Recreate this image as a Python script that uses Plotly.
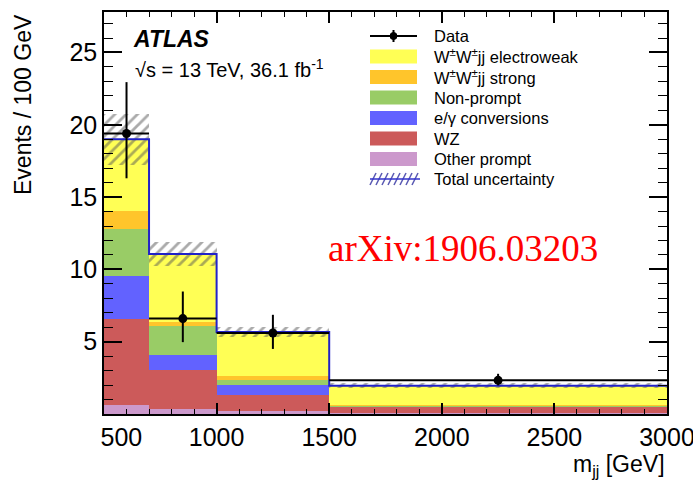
import plotly.graph_objects as go

# Binning in m_jj [GeV]
bin_edges = [500, 700, 1000, 1500, 3000]
bin_centers = [600, 850, 1250, 2250]
bin_widths = [200, 300, 500, 1500]

# Predicted yields, events / 100 GeV, listed bottom to top of the stack
other_prompt = [0.65, 0.35, 0.20, 0.08]
wz = [5.92, 2.72, 1.14, 0.42]
conversions = [2.98, 1.03, 0.69, 0.04]
non_prompt = [3.22, 1.96, 0.35, 0.04]
wwjj_strong = [1.29, 0.27, 0.28, 0.06]
wwjj_ewk = [4.94, 4.74, 3.01, 1.31]

# Total (stat + syst) uncertainty on the prediction
total_unc = [1.75, 0.85, 0.35, 0.17]

# Observed data with Poisson errors
data_y = [19.4, 6.6, 5.6, 2.33]
data_err_up = [3.55, 1.87, 1.26, 0.45]
data_err_down = [3.10, 1.63, 1.10, 0.35]

x_tick_vals = [500, 1000, 1500, 2000, 2500, 3000]
x_tick_text = ["\u00a0\u00a0\u00a0\u00a0\u00a0500", "1000", "1500", "2000", "2500", "3000"]
y_tick_vals = [5, 10, 15, 20, 25]

stack = [
    ("Other prompt", other_prompt, "#cc99cc"),
    ("WZ", wz, "#cc5a5a"),
    ("e/γ conversions", conversions, "#6262ff"),
    ("Non-prompt", non_prompt, "#99cc66"),
    ("W<sup>±</sup>W<sup>±</sup>jj strong", wwjj_strong, "#ffc52b"),
    ("W<sup>±</sup>W<sup>±</sup>jj electroweak", wwjj_ewk, "#ffff55"),
]

totals = [sum(vals[i] for _, vals, _ in stack) for i in range(len(bin_centers))]

W, H = 693, 486
ML, MR, MT, MB = 104, 26, 12, 72
PW, PH = W - ML - MR, H - MT - MB


def px(x):
    return (x - ML) / PW


def py(y):
    return (H - MB - y) / PH


fig = go.Figure()

for name, vals, color in stack:
    fig.add_trace(go.Bar(
        x=bin_centers, y=vals, width=bin_widths, name=name,
        marker=dict(color=color, line=dict(width=0)),
        showlegend=False,
    ))

# hatched uncertainty band
fig.add_trace(go.Bar(
    x=bin_centers,
    y=[2 * u for u in total_unc],
    base=[t - u for t, u in zip(totals, total_unc)],
    width=bin_widths,
    name="Total uncertainty",
    marker=dict(color="rgba(0,0,0,0)", line=dict(width=0),
                pattern=dict(shape="/", fgcolor="#555555", bgcolor="rgba(0,0,0,0)",
                             size=8, solidity=0.35, fillmode="overlay")),
    showlegend=False,
))

# outline of the total prediction
fig.add_trace(go.Scatter(
    x=bin_edges, y=totals + [totals[-1]], mode="lines",
    line=dict(color="#2222c8", width=2, shape="hv"),
    showlegend=False, hoverinfo="skip",
))

# data
fig.add_trace(go.Scatter(
    x=bin_centers, y=data_y, mode="markers", name="Data",
    marker=dict(color="black", size=9),
    error_y=dict(type="data", symmetric=False, array=data_err_up,
                 arrayminus=data_err_down, color="black", thickness=2, width=0),
    error_x=dict(type="data", array=[w / 2 for w in bin_widths],
                 color="black", thickness=2, width=0),
    showlegend=False,
))

axis_font = dict(family="Liberation Sans, Arial, sans-serif", size=25, color="black")
title_font = dict(family="Liberation Sans, Arial, sans-serif", size=23, color="black")

fig.update_layout(
    width=W, height=H,
    margin=dict(l=ML, r=MR, t=MT, b=MB),
    paper_bgcolor="white", plot_bgcolor="white",
    barmode="stack", bargap=0,
    font=dict(family="Liberation Sans, Arial, sans-serif", color="black"),
    xaxis=dict(
        range=[500, 3000], tickvals=x_tick_vals, ticktext=x_tick_text,
        ticks="inside", ticklen=11, tickwidth=1.5, tickcolor="black",
        minor=dict(dtick=100, ticks="inside", ticklen=5, tickwidth=1.2, tickcolor="black"),
        showline=True, linecolor="black", linewidth=1.5, mirror="ticks",
        showgrid=False, zeroline=False, tickfont=axis_font, automargin=False,
        ticklabeloverflow="allow",
    ),
    yaxis=dict(
        range=[0, 27.8], tickvals=y_tick_vals,
        ticks="inside", ticklen=18, tickwidth=1.5, tickcolor="black",
        minor=dict(dtick=1, ticks="inside", ticklen=9, tickwidth=1.2, tickcolor="black"),
        showline=True, linecolor="black", linewidth=1.5, mirror="ticks",
        showgrid=False, zeroline=False, tickfont=axis_font, automargin=False,
        ticklabeloverflow="allow",
    ),
)

annotations = [
    dict(text="m<sub>jj</sub> [GeV]", x=1, y=py(465), xanchor="right", yanchor="middle",
         font=title_font),
    dict(text="Events / 100 GeV", x=px(23), y=py(105), xanchor="center", yanchor="middle",
         textangle=-90, font=title_font),
    dict(text="<b><i>ATLAS</i></b>", x=px(131), y=py(39), xanchor="left", yanchor="middle",
         font=dict(size=23, color="black")),
    dict(text="√s = 13 TeV, 36.1 fb<sup>-1</sup>", x=px(133), y=py(68), xanchor="left",
         yanchor="middle", font=dict(size=20, color="black")),
    dict(text="arXiv:1906.03203", x=px(326), y=py(248), xanchor="left", yanchor="middle",
         font=dict(family="Liberation Serif, Times New Roman, serif", size=37, color="#ff0000")),
]

shapes = []

# legend block
leg_x0, leg_x1, leg_text_x = 370, 417, 432
row_y = [36, 56.5, 77, 97.5, 118, 138.5, 159, 179]
leg_font = dict(size=16.5, color="black")

# Data entry
shapes.append(dict(type="line", xref="paper", yref="paper",
                   x0=px(leg_x0), x1=px(leg_x1), y0=py(row_y[0]), y1=py(row_y[0]),
                   line=dict(color="black", width=2)))
shapes.append(dict(type="line", xref="paper", yref="paper",
                   x0=px(393.5), x1=px(393.5), y0=py(row_y[0] - 6), y1=py(row_y[0] + 6),
                   line=dict(color="black", width=2)))
shapes.append(dict(type="circle", xref="paper", yref="paper",
                   x0=px(390), x1=px(397), y0=py(row_y[0] - 3.5), y1=py(row_y[0] + 3.5),
                   fillcolor="black", line=dict(color="black", width=1)))
annotations.append(dict(text="Data", x=px(leg_text_x), y=py(row_y[0]), xanchor="left",
                        yanchor="middle", font=leg_font))

for i, (name, _, color) in enumerate(reversed(stack)):
    yc = row_y[i + 1]
    shapes.append(dict(type="rect", xref="paper", yref="paper",
                       x0=px(leg_x0), x1=px(leg_x1), y0=py(yc + 7), y1=py(yc - 7),
                       fillcolor=color, line=dict(width=0)))
    annotations.append(dict(text=name, x=px(leg_text_x), y=py(yc), xanchor="left",
                            yanchor="middle", font=leg_font))

# Total uncertainty entry
yc = row_y[-1]
for k in range(8):
    xa = leg_x0 + k * 6
    shapes.append(dict(type="line", xref="paper", yref="paper",
                       x0=px(xa), x1=px(xa + 6), y0=py(yc + 6), y1=py(yc - 6),
                       line=dict(color="#5a5ab4", width=1.5)))
shapes.append(dict(type="line", xref="paper", yref="paper",
                   x0=px(leg_x0), x1=px(leg_x1 + 3), y0=py(yc), y1=py(yc),
                   line=dict(color="#3333cc", width=1.5)))
annotations.append(dict(text="Total uncertainty", x=px(leg_text_x), y=py(yc), xanchor="left",
                        yanchor="middle", font=leg_font))

for a in annotations:
    a.setdefault("xref", "paper")
    a.setdefault("yref", "paper")
    a.setdefault("showarrow", False)

fig.update_layout(annotations=annotations, shapes=shapes)

fig.write_html("out.html")
